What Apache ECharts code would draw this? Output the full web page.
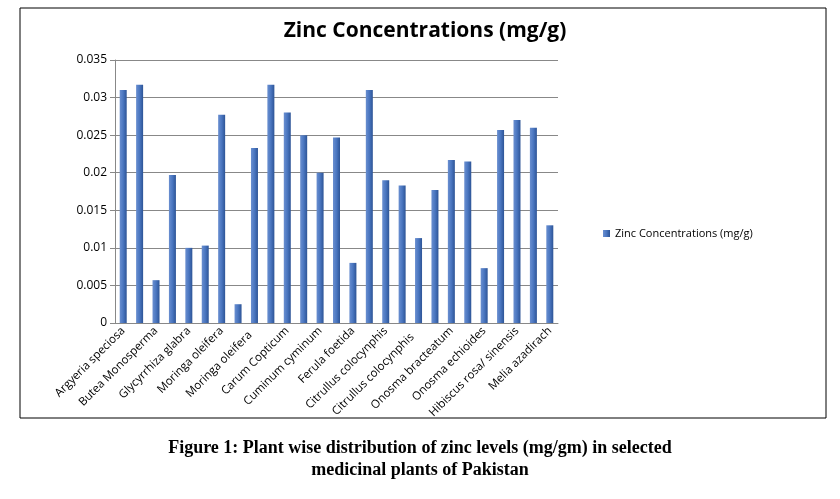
<!DOCTYPE html><html><head><meta charset="utf-8">
<script src="https://cdn.jsdelivr.net/npm/echarts@6/dist/echarts.min.js"></script>
<style>body{margin:0;background:#fff}#c{width:840px;height:499px}</style></head><body><div id="c"></div>
<script>
const categories=["Argyeria speciosa","Argyeria speciosa ","Butea Monosperma","Butea Monosperma ","Glycyrrhiza glabra","Glycyrrhiza glabra ","Moringa oleifera","Moringa oleifera ","Moringa oleifera  ","Carum Copticum ","Carum Copticum","Cuminum cyminum ","Cuminum cyminum","Ferula foetida ","Ferula foetida","Citrullus colocynphis ","Citrullus colocynphis","Citrullus colocynphis  ","Citrullus colocynphis   ","Onosma bracteatum ","Onosma bracteatum","Onosma echioides ","Onosma echioides","Hibiscus rosa/ sinensis ","Hibiscus rosa/ sinensis","Melia azadirach ","Melia azadirach"];
const values=[0.0310,0.0317,0.0057,0.0197,0.0100,0.0103,0.0277,0.0025,0.0233,0.0317,0.0280,0.0250,0.0200,0.0247,0.0080,0.0310,0.0190,0.0183,0.0113,0.0177,0.0217,0.0215,0.0073,0.0257,0.0270,0.0260,0.0130];
const yTicks=[0,0.005,0.01,0.015,0.02,0.025,0.03,0.035];
const ch=echarts.init(document.getElementById('c'));
ch.setOption({
 animation:false,
 graphic:[{type:'rect',shape:{x:20,y:8,width:806,height:410},style:{fill:'none',stroke:'#000',lineWidth:1}},
  {type:'text',left:'center',top:437,style:{text:'Figure 1: Plant wise distribution of zinc levels (mg/gm) in selected\nmedicinal plants of Pakistan',font:'bold 18px "Liberation Serif"',textAlign:'center',lineHeight:22,fill:'#000'}}],
 title:{text:'Zinc Concentrations (mg/g)',left:420,textAlign:'center',top:16,textStyle:{fontFamily:'Open Sans',fontSize:21,fontWeight:'bold',color:'#000'}},
 legend:{left:598,top:223,orient:'vertical',itemWidth:7,itemHeight:7,itemGap:5,icon:'rect',textStyle:{fontSize:11,fontFamily:'Open Sans',color:'#000'}},
 grid:{left:115,right:282,top:60,bottom:176},
 xAxis:{type:'category',data:categories,axisTick:{alignWithLabel:false,length:5,lineStyle:{color:'#888'},interval:0},
  axisLine:{lineStyle:{color:'#888'}},
  axisLabel:{interval:1,rotate:45,fontSize:11.5,fontFamily:'Open Sans',color:'#000',margin:6}},
 yAxis:{type:'value',min:0,max:0.035,interval:0.005,axisLine:{show:true,lineStyle:{color:'#888'}},axisTick:{show:true,lineStyle:{color:'#888'}},
  splitLine:{lineStyle:{color:'#888'}},axisLabel:{fontSize:12,fontFamily:'Open Sans',color:'#000',formatter:v=>String(+v.toFixed(3))}},
 series:[{name:'Zinc Concentrations (mg/g)',type:'bar',data:values,barWidth:7,
  itemStyle:{color:new echarts.graphic.LinearGradient(0,0,1,0,[{offset:0,color:'#6a8fd0'},{offset:0.5,color:'#4a76c0'},{offset:1,color:'#2d5496'}])}}]
});
</script></body></html>
